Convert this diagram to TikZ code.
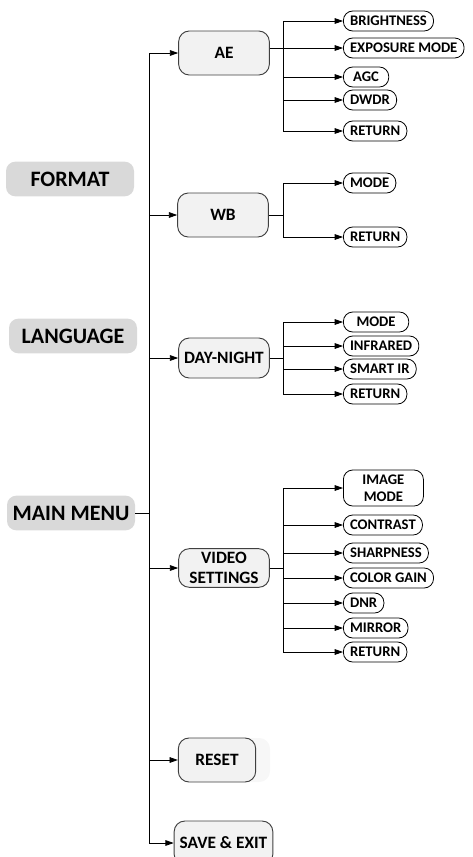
\documentclass[tikz,border=0pt]{standalone}
\usepackage{fontspec}
\setmainfont{Carlito}
\usetikzlibrary{arrows.meta,positioning}
\definecolor{menugray}{HTML}{D9D9D9}
\definecolor{subgray}{HTML}{F2F2F2}
\definecolor{edgegray}{HTML}{404040}
\tikzset{
  menu/.style={fill=menugray, rounded corners=7pt, inner sep=2pt,
               font=\fontsize{16.5}{18}\selectfont\bfseries,
               minimum width=96pt, minimum height=26pt},
  sub/.style={draw=edgegray, fill=subgray, line width=0.7pt, rounded corners=8pt,
              align=center, inner sep=1pt, font=\fontsize{13}{15}\selectfont\bfseries,
              minimum width=68pt, minimum height=33pt},
  leaf/.style={draw, fill=white, line width=0.6pt, rounded corners=7pt, anchor=west,
               align=center, inner xsep=5pt, inner ysep=1pt,
               font=\fontsize{11}{13}\selectfont\bfseries, minimum height=15pt},
  flow/.style={-{Triangle[length=2.2mm,width=1.5mm]}, line width=0.6pt},
  link/.style={line width=0.6pt},
}

\begin{document}
\begin{tikzpicture}[x=0.75pt, y=-0.75pt]
  \useasboundingbox (0,0) rectangle (472,857);
  % left column
  \node[menu] (format) at (70,179) {FORMAT};
  \node[menu] (lang) at (73,336) {LANGUAGE};
  \node[menu] (main) at (71,513) {MAIN MENU};
  % sub menus
  \node[sub] (ae) at (224,53) {AE};
  \node[sub] (wb) at (223,215) {WB};
  \node[sub, minimum height=30pt] (dn) at (224,358) {DAY-NIGHT};
  \node[sub, minimum height=29pt, inner sep=0pt] (vs) at (224,568) {VIDEO\\SETTINGS};
  \fill[subgray!60, rounded corners=8pt] (179,738) rectangle (270,782);
  \node[sub, minimum width=58pt] (reset) at (217,760) {RESET};
  \node[sub, minimum width=74pt] (save) at (223.5,843) {SAVE \& EXIT};
  % AE items
  \node[leaf] (bright) at (343,21) {BRIGHTNESS};
  \node[leaf] (expo) at (343,48) {EXPOSURE MODE};
  \node[leaf, minimum width=34pt] (agc) at (343,77) {AGC};
  \node[leaf] (dwdr) at (343,100) {DWDR};
  \node[leaf] (aeret) at (343,131) {RETURN};
  % WB items
  \node[leaf] (wbmode) at (343,183) {MODE};
  \node[leaf] (wbret) at (343,237) {RETURN};
  % DAY-NIGHT items
  \node[leaf, minimum width=49pt] (dnmode) at (343,322) {MODE};
  \node[leaf] (infra) at (343,346) {INFRARED};
  \node[leaf] (smart) at (343,369) {SMART IR};
  \node[leaf] (dnret) at (343,394) {RETURN};
  % VIDEO SETTINGS items
  \node[leaf, minimum width=60pt, minimum height=27pt] (image) at (343,488) {IMAGE\\MODE};
  \node[leaf] (contrast) at (343,525) {CONTRAST};
  \node[leaf] (sharp) at (343,553) {SHARPNESS};
  \node[leaf] (color) at (343,578) {COLOR GAIN};
  \node[leaf] (dnr) at (343,603) {DNR};
  \node[leaf] (mirror) at (343,628) {MIRROR};
  \node[leaf] (vsret) at (343,652) {RETURN};
  % trunk
  \coordinate (tr) at (149,0);
  \coordinate (br) at (283,0);
  \draw[link] (main.east) -- (tr |- main.east);
  \draw[link] (tr |- ae.west) -- (tr |- save.west);
  \foreach \n in {ae,wb,dn,vs,reset,save}
    \draw[flow] (tr |- \n.west) -- (\n.west);
  % branches
  \draw[link] (br |- bright.west) -- (br |- aeret.west);
  \draw[link] (ae.east |- expo.west) -- (br |- expo.west);
  \draw[link] (br |- wbmode.west) -- (br |- wbret.west);
  \draw[link] (wb.east) -- (br |- wb.east);
  \draw[link] (br |- dnmode.west) -- (br |- dnret.west);
  \draw[link] (dn.east) -- (br |- dn.east);
  \draw[link] (br |- image.west) -- (br |- vsret.west);
  \draw[link] (vs.east) -- (br |- vs.east);
  \foreach \n in {bright,expo,agc,dwdr,aeret,wbmode,wbret,dnmode,infra,smart,dnret,
                  image,contrast,sharp,color,dnr,mirror,vsret}
    \draw[flow] (br |- \n.west) -- (\n.west);
\end{tikzpicture}
\end{document}
